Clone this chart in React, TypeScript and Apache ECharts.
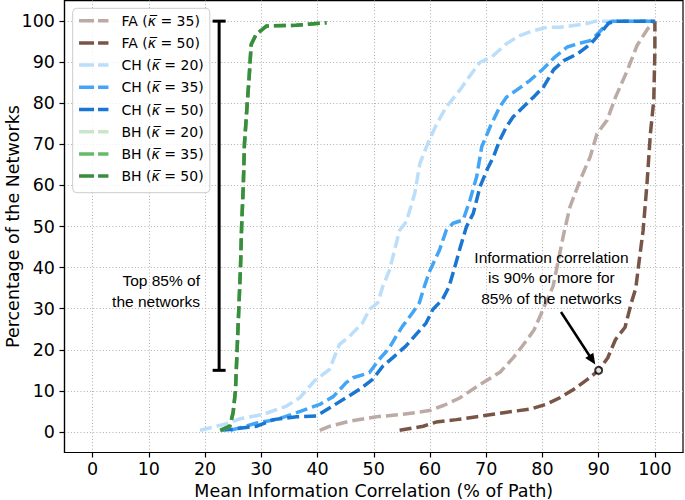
import React, { useEffect, useRef } from "react";
import * as echarts from "echarts";

// ---- data ----
const tickValues = [0, 10, 20, 30, 40, 50, 60, 70, 80, 90, 100];

const seriesNames = [
  "FA (κ\u0305 = 35)",
  "FA (κ\u0305 = 50)",
  "CH (κ\u0305 = 20)",
  "CH (κ\u0305 = 35)",
  "CH (κ\u0305 = 50)",
  "BH (κ\u0305 = 20)",
  "BH (κ\u0305 = 35)",
  "BH (κ\u0305 = 50)",
];

const fa35 = [
  [40.4, 0.4], [42.2, 1.4], [45.7, 2.6], [50.5, 3.7], [55.2, 4.3], [59.9, 5.2], [62.5, 6.5],
  [65.2, 8.2], [68.5, 11.2], [72.5, 14.6], [74.9, 18.2], [76.7, 21.4], [78.5, 24.8], [80.1, 29.8],
  [81.9, 35.5], [82.6, 40.2], [83.8, 48.3], [84.9, 54.8], [86.7, 61.3], [88.5, 67.0], [89.7, 72.6],
  [91.5, 75.9], [93.0, 81.5], [95.1, 88.0], [96.8, 94.0], [98.7, 98.1], [100, 100],
];

const fa50 = [
  [54.6, 0.4], [58.8, 1.4], [61.1, 2.4], [64.7, 3.0], [67.7, 3.6], [73.7, 4.8], [77.9, 5.6],
  [80.8, 6.8], [83.2, 8.4], [85.6, 10.4], [88.0, 12.8], [90.0, 15.0], [91.6, 18.0], [93.0, 22.5],
  [94.7, 25.5], [95.8, 31.4], [96.6, 35.0], [97.1, 40.5], [97.9, 49.0], [98.6, 60.5], [99.2, 72.6],
  [99.8, 80.7], [100, 92.9], [100, 100],
];

const ch20 = [
  [19.1, 0.4], [23.3, 1.8], [26.2, 3.2], [30.4, 4.3], [34.5, 6.3], [36.9, 8.4], [39.5, 12.5],
  [42.1, 15.2], [43.9, 21.3], [45.7, 23.3], [48.0, 26.5], [49.2, 29.8], [50.7, 31.4], [51.6, 35.4],
  [52.8, 39.4], [54.6, 49.1], [55.8, 51.2], [57.3, 58.1], [58.2, 65.3], [59.6, 70.2], [61.2, 75.0],
  [62.9, 79.1], [65.3, 83.2], [67.0, 86.5], [68.9, 90.0], [71.0, 91.3], [73.6, 94.5], [76.0, 96.5],
  [78.4, 97.7], [80.8, 98.5], [83.2, 98.5], [87.9, 99.4], [89.5, 100], [100, 100],
];

const ch35 = [
  [24.5, 0.4], [26.2, 1.0], [29.2, 2.2], [32.7, 3.0], [36.3, 4.7], [40.4, 6.7], [42.8, 8.6],
  [45.1, 12.0], [46.3, 13.2], [49.2, 14.4], [51.0, 17.7], [52.8, 20.5], [54.0, 23.3], [55.1, 25.7],
  [56.9, 29.0], [58.1, 31.4], [59.0, 35.4], [59.9, 39.0], [61.7, 44.3], [62.9, 49.1], [64.1, 50.8],
  [65.9, 51.6], [67.1, 56.4], [68.3, 62.1], [69.2, 69.4], [70.7, 74.3], [72.4, 79.1], [73.6, 81.5],
  [75.4, 83.2], [77.8, 85.6], [80.0, 88.2], [82.0, 91.0], [84.4, 93.7], [87.4, 94.9], [88.6, 95.3],
  [90.1, 97.3], [91.5, 99.4], [92.5, 100], [100, 100],
];

const ch50 = [
  [22.8, 0.4], [24.4, 0.6], [29.2, 1.4], [32.1, 3.0], [36.3, 3.7], [39.8, 3.9], [42.2, 5.9],
  [45.4, 8.6], [47.5, 10.4], [49.8, 12.8], [51.6, 16.0], [53.4, 18.1], [55.7, 20.9], [57.5, 23.7],
  [59.3, 26.5], [60.5, 29.8], [62.2, 32.2], [63.4, 35.4], [64.3, 39.6], [65.4, 45.0], [66.5, 50.0],
  [67.7, 53.2], [68.9, 59.7], [70.2, 64.0], [71.3, 67.0], [72.4, 71.0], [73.6, 74.3], [74.8, 76.7],
  [76.0, 78.3], [78.4, 81.5], [80.2, 84.0], [82.0, 88.2], [83.8, 90.4], [86.2, 92.0], [88.6, 94.5],
  [90.4, 97.3], [91.8, 99.5], [93.0, 100], [100, 100],
];

const bh50 = [
  [22.7, 0.4], [24.4, 1.4], [25.0, 4.8], [25.4, 10], [25.7, 20], [26.0, 30], [26.3, 40],
  [26.5, 50], [26.8, 60], [27.0, 70], [27.5, 80], [27.8, 85.5], [28.2, 94.3], [29.1, 96.8],
  [30.9, 98.8], [36.2, 99.0], [41.6, 99.6],
];
// BH (κ=20) and BH (κ=35) lie underneath BH (κ=50) in the figure
const bh20 = bh50;
const bh35 = bh50;

const seriesData = [fa35, fa50, ch20, ch35, ch50, bh20, bh35, bh50];
const seriesColors = ["#bcaaa4", "#795548", "#bbdefb", "#42a5f5", "#1976d2", "#c8e6c9", "#66bb6a", "#388e3c"];

// annotations
const markedPoint = [[90, 15]];
const topBar = [[22.5, 15, 100]]; // x, low, high
const arrowSegment = [[83.3, 29.2, 89.4, 16.4]]; // x1, y1, x2, y2
const noteTexts = ["Information correlation\nis 90% or more for\n85% of the networks", "Top 85% of\nthe networks"];
const notePositions = [[81.6, 37.5, 0], [19.1, 34.4, 1]];
const noteAligns = ["center", "right"];

const FONT = "DejaVu Sans";
const NOTE_FONT = "Liberation Sans";

export default function App() {
  const ref = useRef<HTMLDivElement>(null);

  useEffect(() => {
    if (!ref.current) return;
    const chart = echarts.init(ref.current, null, { renderer: "svg" });

    const lineSeries = seriesNames.map((name, i) => ({
      name,
      type: "line",
      data: seriesData[i],
      symbol: "none",
      showSymbol: false,
      smooth: false,
      z: 2 + i * 0.01,
      color: seriesColors[i],
      lineStyle: { color: seriesColors[i], width: 3.5, type: [12, 5], cap: "butt", join: "round" },
      itemStyle: { color: seriesColors[i] },
      emphasis: { disabled: true },
      silent: true,
    }));

    const gridLine = { show: true, lineStyle: { color: "#b0b0b0", type: [1, 2.2], width: 1 } };

    const option: any = {
      animation: false,
      grid: {
        left: 64.5,
        top: 0.6,
        width: 618.5,
        height: 451.9,
        show: true,
        borderColor: "#000",
        borderWidth: 1.2,
        backgroundColor: "transparent",
        containLabel: false,
        outerBoundsMode: "none",
      },
      legend: {
        show: true,
        orient: "vertical",
        left: 72.7,
        top: 8.3,
        itemWidth: 29.4,
        itemHeight: 14,
        itemGap: 4.2,
        padding: [3.4, 6, 7.6, 4.6],
        backgroundColor: "rgba(255,255,255,0.8)",
        borderColor: "#cccccc",
        borderWidth: 1,
        borderRadius: 4,
        selectedMode: false,
        data: seriesNames,
        itemStyle: { opacity: 0, borderWidth: 0 },
        lineStyle: { width: 3.5, type: [15, 4], cap: "butt" },
        formatter: (name: string) => "{s| }" + name.replace("κ\u0305", "{k|κ\u0305}"),
        textStyle: {
          fontFamily: FONT,
          fontSize: 14,
          color: "#000",
          lineHeight: 18,
          rich: {
            s: { width: 8, fontSize: 14, fontFamily: FONT, lineHeight: 18 },
            k: { fontStyle: "italic", fontSize: 14, fontFamily: FONT, color: "#000", lineHeight: 18 },
          },
        },
      },
      xAxis: {
        type: "value",
        min: -5,
        max: 105,
        name: "Mean Information Correlation (% of Path)",
        nameLocation: "middle",
        nameGap: 29,
        nameMoveOverlap: false,
        nameTextStyle: { fontFamily: FONT, fontSize: 17.5, color: "#000" },
        axisLine: { show: true, onZero: false, lineStyle: { color: "#000", width: 1.2 } },
        axisTick: { show: true, customValues: tickValues, length: 5, lineStyle: { color: "#000", width: 1.2 } },
        axisLabel: {
          customValues: tickValues,
          margin: 7,
          color: "#000",
          fontSize: 17.5,
          fontFamily: FONT,
          hideOverlap: false,
        },
        splitLine: gridLine,
      },
      yAxis: {
        type: "value",
        min: -5,
        max: 105,
        name: "Percentage of the Networks",
        nameLocation: "middle",
        nameGap: 42.5,
        nameMoveOverlap: false,
        nameTextStyle: { fontFamily: FONT, fontSize: 17.5, color: "#000" },
        axisLine: { show: true, onZero: false, lineStyle: { color: "#000", width: 1.2 } },
        axisTick: { show: true, customValues: tickValues, length: 5, lineStyle: { color: "#000", width: 1.2 } },
        axisLabel: {
          customValues: tickValues,
          margin: 9.5,
          color: "#000",
          fontSize: 17.5,
          fontFamily: FONT,
          hideOverlap: false,
        },
        splitLine: gridLine,
      },
      series: [
        ...lineSeries,
        {
          type: "custom",
          name: "topBar",
          data: topBar,
          z: 5,
          silent: true,
          renderItem: (params: any, api: any) => {
            const x = api.value(0);
            const top = api.coord([x, api.value(2)]);
            const bot = api.coord([x, api.value(1)]);
            const st = { stroke: "#000", lineWidth: 3, lineCap: "butt" };
            const cap = 6.5;
            return {
              type: "group",
              children: [
                { type: "line", shape: { x1: top[0], y1: top[1], x2: bot[0], y2: bot[1] }, style: st },
                { type: "line", shape: { x1: top[0] - cap, y1: top[1], x2: top[0] + cap, y2: top[1] }, style: st },
                { type: "line", shape: { x1: bot[0] - cap, y1: bot[1], x2: bot[0] + cap, y2: bot[1] }, style: st },
              ],
            };
          },
        },
        {
          type: "custom",
          name: "arrow",
          data: arrowSegment,
          z: 6,
          silent: true,
          renderItem: (params: any, api: any) => {
            const p1 = api.coord([api.value(0), api.value(1)]);
            const p2 = api.coord([api.value(2), api.value(3)]);
            const dx = p2[0] - p1[0];
            const dy = p2[1] - p1[1];
            const len = Math.sqrt(dx * dx + dy * dy);
            const ux = dx / len;
            const uy = dy / len;
            const head = 11;
            const half = 4.8;
            const bx = p2[0] - ux * head;
            const by = p2[1] - uy * head;
            return {
              type: "group",
              children: [
                {
                  type: "line",
                  shape: { x1: p1[0], y1: p1[1], x2: bx + ux * 1, y2: by + uy * 1 },
                  style: { stroke: "#000", lineWidth: 2.5 },
                },
                {
                  type: "polygon",
                  shape: {
                    points: [
                      [p2[0], p2[1]],
                      [bx - uy * half, by + ux * half],
                      [bx + uy * half, by - ux * half],
                    ],
                  },
                  style: { fill: "#000" },
                },
              ],
            };
          },
        },
        {
          type: "custom",
          name: "notes",
          data: notePositions,
          z: 7,
          silent: true,
          renderItem: (params: any, api: any) => {
            const p = api.coord([api.value(0), api.value(1)]);
            const idx = api.value(2);
            return {
              type: "text",
              x: p[0],
              y: p[1],
              style: {
                text: noteTexts[idx],
                fill: "#000",
                font: `15.5px "${NOTE_FONT}"`,
                fontSize: 15.5,
                fontFamily: NOTE_FONT,
                align: noteAligns[idx],
                verticalAlign: "middle",
                lineHeight: 20.8,
              },
            };
          },
        },
        {
          type: "scatter",
          name: "marked",
          data: markedPoint,
          symbol: "circle",
          symbolSize: 7,
          z: 8,
          silent: true,
          itemStyle: { color: "#ffffff", borderColor: "#000", borderWidth: 2 },
        },
      ],
    };

    chart.setOption(option);
    return () => chart.dispose();
  }, []);

  return <div ref={ref} style={{ width: 685, height: 500, position: "absolute", left: 0, top: 0 }} />;
}
